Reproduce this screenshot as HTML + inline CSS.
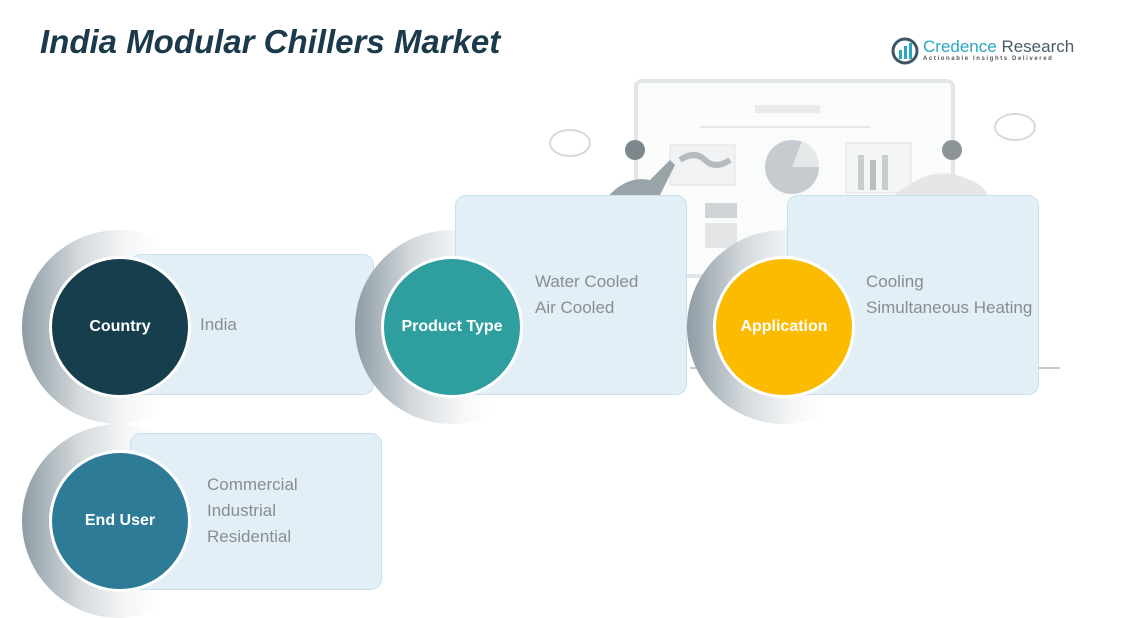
<!DOCTYPE html>
<html><head><meta charset="utf-8"><style>
body{margin:0;width:1123px;height:612px;background:#fff;position:relative;overflow:hidden;font-family:"Liberation Sans",sans-serif}
.a{position:absolute}
.card{position:absolute;background:#e2eff7;border:1px solid #c9dfea;border-radius:11px}
.ring{position:absolute;border-radius:50%;background:linear-gradient(90deg,#8e9ca5 0%,#d5dadd 30%,#f6f7f8 55%,#fff 70%)}
.c{position:absolute;border-radius:50%;border:3px solid #fff;box-sizing:border-box;color:#fff;font-weight:bold;font-size:16px;display:flex;align-items:center;justify-content:center}
.t{position:absolute;color:#8a8d90;font-size:17px;line-height:26px}
</style></head><body>
<div class="a" style="left:40px;top:23px;font-size:33px;font-weight:bold;font-style:italic;color:#1b3a4b">India Modular Chillers Market</div>
<!-- logo -->
<svg class="a" style="left:890px;top:36px" width="30" height="30"><circle cx="15" cy="15" r="12" fill="none" stroke="#3d5566" stroke-width="3"/><rect x="9" y="14" width="3" height="9" fill="#2aa7c0"/><rect x="14" y="10" width="3" height="13" fill="#2aa7c0"/><rect x="19" y="7" width="3" height="16" fill="#2aa7c0"/></svg>
<div class="a" style="left:923px;top:37px;font-size:17px;color:#2aa7c0">Credence <span style="color:#4a5b66">Research</span></div>
<div class="a" style="left:923px;top:56px;font-size:6px;letter-spacing:1.6px;color:#555;font-weight:bold">Actionable Insights Delivered</div>
<!-- background illustration -->
<svg class="a" style="left:540px;top:75px" width="540" height="300">
<rect x="96" y="6" width="317" height="195" rx="6" fill="#fafbfb" stroke="#e3e6e8" stroke-width="4"/>
<rect x="215" y="30" width="65" height="8" fill="#e8eaeb"/><line x1="160" y1="52" x2="330" y2="52" stroke="#e5e7e8" stroke-width="2"/>
<rect x="130" y="70" width="65" height="40" fill="#f1f2f3" stroke="#e1e3e4"/>
<path d="M140 85 q15 -10 25 0 t25 0" stroke="#b5bbbe" stroke-width="6" fill="none"/>
<circle cx="252" cy="92" r="27" fill="#c5cbce"/><path d="M252 92 L262 66 A27 27 0 0 1 279 92 Z" fill="#e5e8e9"/>
<rect x="306" y="68" width="65" height="50" fill="#f4f5f5" stroke="#e1e3e4"/>
<rect x="318" y="80" width="6" height="35" fill="#c8cdd0"/><rect x="330" y="85" width="6" height="30" fill="#b8bec1"/><rect x="342" y="80" width="6" height="35" fill="#c8cdd0"/>
<rect x="165" y="128" width="32" height="15" fill="#d0d4d6"/><rect x="165" y="148" width="32" height="25" fill="#e3e5e6"/>
<ellipse cx="30" cy="68" rx="20" ry="13" fill="none" stroke="#d6d9db" stroke-width="2"/>
<ellipse cx="475" cy="52" rx="20" ry="13" fill="none" stroke="#d6d9db" stroke-width="2"/>
<path d="M65 125 q20 -25 45 -20 l20 -20 5 5 -15 30 v5 H65Z" fill="#9aa3a8"/><circle cx="95" cy="75" r="10" fill="#7e878c"/>
<path d="M350 125 q40 -40 80 -20 q15 5 20 20Z" fill="#e4e6e7"/><circle cx="412" cy="75" r="10" fill="#8c9498"/>
<line x1="150" y1="293" x2="520" y2="293" stroke="#c5c9cb" stroke-width="2"/>
</svg>
<!-- rows -->
<div class="ring" style="left:22px;top:230px;width:194px;height:194px"></div>
<div class="card" style="left:130px;top:254px;width:242px;height:139px"></div>
<div class="c" style="left:49px;top:256px;width:142px;height:142px;background:#173e4c">Country</div>
<div class="t" style="left:200px;top:312px">India</div>

<div class="ring" style="left:355px;top:230px;width:194px;height:194px"></div>
<div class="card" style="left:455px;top:195px;width:230px;height:198px"></div>
<div class="c" style="left:381px;top:256px;width:142px;height:142px;background:#2e9e9f">Product Type</div>
<div class="t" style="left:535px;top:269px">Water Cooled<br>Air Cooled</div>

<div class="ring" style="left:687px;top:230px;width:194px;height:194px"></div>
<div class="card" style="left:787px;top:195px;width:250px;height:198px"></div>
<div class="c" style="left:713px;top:256px;width:142px;height:142px;background:#fbbb00">Application</div>
<div class="t" style="left:866px;top:269px">Cooling<br>Simultaneous Heating</div>

<div class="ring" style="left:22px;top:424px;width:194px;height:194px"></div>
<div class="card" style="left:130px;top:433px;width:250px;height:155px"></div>
<div class="c" style="left:49px;top:450px;width:142px;height:142px;background:#2e7b97">End User</div>
<div class="t" style="left:207px;top:472px">Commercial<br>Industrial<br>Residential</div>
</body></html>
